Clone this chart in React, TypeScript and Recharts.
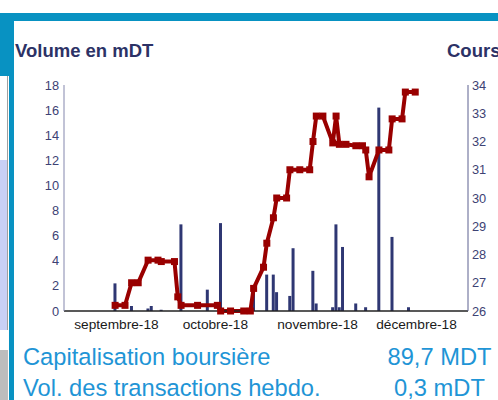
import React from "react";
import { ComposedChart, Bar, Line, XAxis, YAxis } from "recharts";

// Daily traded volume (mDT)
const volumeDates = [
  "2018-08-31", "2018-09-05", "2018-09-10", "2018-09-11", "2018-09-14", "2018-09-20",
  "2018-09-28", "2018-10-02", "2018-10-12", "2018-10-16", "2018-10-18", "2018-10-19",
  "2018-10-23", "2018-10-24", "2018-10-30", "2018-10-31", "2018-11-05", "2018-11-06",
  "2018-11-07", "2018-11-08", "2018-11-12", "2018-11-15", "2018-11-19", "2018-11-23",
  "2018-11-28",
];
const volumes = [
  2.2, 0.4, 0.2, 0.4, 0.1, 6.9,
  1.7, 7.0, 1.9, 2.9, 2.9, 1.5,
  1.2, 5.0, 3.2, 0.6, 0.3, 6.9,
  0.3, 5.1, 0.6, 0.3, 16.2, 5.9,
  0.3,
];

// Share price (DT)
const priceDates = [
  "2018-08-31", "2018-09-03", "2018-09-05", "2018-09-07", "2018-09-10", "2018-09-13",
  "2018-09-14", "2018-09-18", "2018-09-19", "2018-09-20", "2018-09-25", "2018-10-01",
  "2018-10-02", "2018-10-05", "2018-10-09", "2018-10-11", "2018-10-12", "2018-10-15",
  "2018-10-16", "2018-10-18", "2018-10-19", "2018-10-22", "2018-10-23", "2018-10-26",
  "2018-10-29", "2018-10-30", "2018-10-31", "2018-11-02", "2018-11-05", "2018-11-06",
  "2018-11-07", "2018-11-09", "2018-11-12", "2018-11-14", "2018-11-15", "2018-11-16",
  "2018-11-19", "2018-11-22", "2018-11-23", "2018-11-26", "2018-11-27", "2018-11-30",
];
const prices = [
  26.2, 26.2, 27.0, 27.0, 27.8, 27.8,
  27.75, 27.75, 26.5, 26.2, 26.2, 26.2,
  26.0, 26.0, 26.0, 26.0, 26.8, 27.55,
  28.4, 29.3, 30.0, 30.0, 31.0, 31.0,
  31.0, 32.0, 32.9, 32.9, 31.95, 32.9,
  31.9, 31.9, 31.85, 31.85, 31.7, 30.75,
  31.7, 31.7, 32.8, 32.8, 33.75, 33.75,
];

const monthTickDates = ["2018-09-01", "2018-10-01", "2018-11-01", "2018-12-01"];
const monthTickLabels = ["septembre-18", "octobre-18", "novembre-18", "décembre-18"];
const axisStartDate = "2018-08-16";
const axisEndDate = "2018-12-16";

const volumeTicks = [0, 2, 4, 6, 8, 10, 12, 14, 16, 18];
const priceTicks = [26, 27, 28, 29, 30, 31, 32, 33, 34];

const dayOf = (s: string) => {
  const [y, m, d] = s.split("-").map(Number);
  return (Date.UTC(y, m - 1, d) - Date.UTC(2018, 8, 1)) / 86400000;
};

const rowsMap = new Map<number, any>();
volumeDates.forEach((s, i) => {
  const d = dayOf(s);
  rowsMap.set(d, { ...(rowsMap.get(d) || { day: d }), volume: volumes[i] });
});
priceDates.forEach((s, i) => {
  const d = dayOf(s);
  rowsMap.set(d, { ...(rowsMap.get(d) || { day: d }), price: prices[i] });
});
const data = Array.from(rowsMap.values()).sort((a, b) => a.day - b.day);

const monthTicks = monthTickDates.map(dayOf);
const labelFor = (v: number) => monthTickLabels[monthTicks.indexOf(v)] ?? "";

const FONT = "'Liberation Sans', Arial, sans-serif";
const BLUE = "#0892c2";
const TEXT_BLUE = "#1f95d6";
const NAVY = "#2c3266";

const SquareDot = (props: any) => {
  const { cx, cy } = props;
  if (cx == null || cy == null || props.value == null) return null;
  return <rect x={cx - 3.5} y={cy - 3.5} width={7} height={7} fill="#990000" />;
};

const XTick = (props: any) => {
  const { x, y, payload } = props;
  return (
    <text x={x - 2} y={y} dy="0.71em" textAnchor="middle" fontSize={13.7} fontFamily={FONT} fill="#1a1a1a">
      {labelFor(payload.value)}
    </text>
  );
};

export default function App() {
  return (
    <div style={{ position: "absolute", left: 0, top: 0, width: 498, height: 400, overflow: "hidden", background: "#fff", fontFamily: FONT }}>
      {/* frame */}
      <div style={{ position: "absolute", left: 0, top: 13, width: 498, height: 8, background: BLUE }} />
      <div style={{ position: "absolute", left: 0, top: 13, width: 14, height: 63, background: BLUE }} />
      <div style={{ position: "absolute", left: 9, top: 13, width: 5, height: 387, background: BLUE }} />
      <div style={{ position: "absolute", left: 7, top: 76, width: 1, height: 254, background: "#a0a0a0" }} />
      <div style={{ position: "absolute", left: 0, top: 160, width: 7, height: 170, background: "#c8d0f6" }} />
      <div style={{ position: "absolute", left: 0, top: 350, width: 8, height: 50, background: "#bdbdbd" }} />

      <div style={{ position: "absolute", left: 0, top: 0 }}>
        <ComposedChart
          width={498}
          height={400}
          data={data}
          margin={{ top: 85, right: 0, bottom: 69, left: 0 }}
        >
          <XAxis
            dataKey="day"
            type="number"
            domain={[dayOf(axisStartDate) - 0.5, dayOf(axisEndDate)]}
            ticks={monthTicks}
            tick={<XTick />}
            tickLine={false}
            tickSize={6}
            tickMargin={2}
            axisLine={{ stroke: "#222", strokeWidth: 1.5 }}
            height={20}
            allowDataOverflow
          />
          <YAxis
            yAxisId="left"
            orientation="left"
            domain={[0, 18]}
            ticks={volumeTicks}
            width={64}
            tickLine={false}
            tickSize={3}
            tickMargin={2}
            axisLine={{ stroke: "#8487ad" }}
            tick={{ fill: "#3d4274", fontSize: 12.8, fontFamily: FONT }}
            interval={0}
          />
          <YAxis
            yAxisId="right"
            orientation="right"
            domain={[26, 34]}
            ticks={priceTicks}
            width={30}
            tickLine={false}
            tickSize={2}
            tickMargin={2}
            axisLine={{ stroke: "#5d6190" }}
            tick={{ fill: "#3d4274", fontSize: 12.8, fontFamily: FONT }}
            interval={0}
          />
          <Bar yAxisId="left" dataKey="volume" fill="#2f3773" barSize={3} isAnimationActive={false} />
          <Line
            yAxisId="right"
            dataKey="price"
            stroke="#990000"
            strokeWidth={4}
            connectNulls
            dot={<SquareDot />}
            activeDot={false}
            isAnimationActive={false}
            strokeLinejoin="miter"
          />
        </ComposedChart>
      </div>

      <svg width={498} height={400} style={{ position: "absolute", left: 0, top: 0, pointerEvents: "none" }}>
        <text x={15} y={57} fontSize={18.5} fontWeight="bold" fontFamily={FONT} fill={NAVY}>Volume en mDT</text>
        <text x={447} y={57} fontSize={18.5} fontWeight="bold" fontFamily={FONT} fill={NAVY}>Cours</text>
        <text x={23} y={365} fontSize={23.7} fontFamily={FONT} fill={TEXT_BLUE}>Capitalisation boursière</text>
        <text x={439.5} y={365} fontSize={23.7} fontFamily={FONT} fill={TEXT_BLUE} textAnchor="middle">89,7 MDT</text>
        <text x={23} y={395.5} fontSize={23.7} fontFamily={FONT} fill={TEXT_BLUE}>Vol. des transactions hebdo.</text>
        <text x={439.5} y={395.5} fontSize={23.7} fontFamily={FONT} fill={TEXT_BLUE} textAnchor="middle">0,3 mDT</text>
      </svg>
    </div>
  );
}
